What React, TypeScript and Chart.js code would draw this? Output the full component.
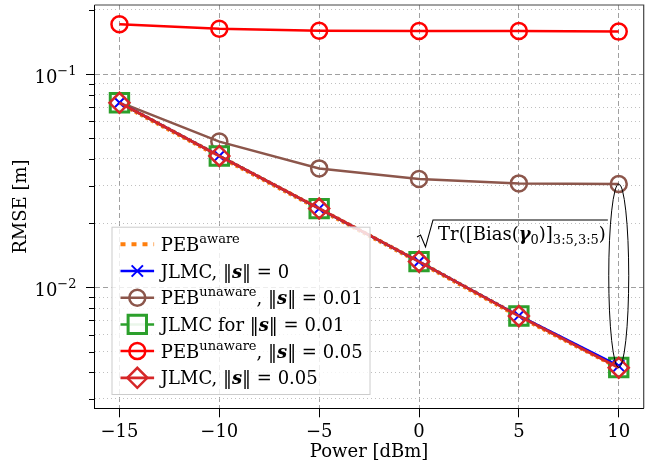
import React, { useEffect, useRef } from 'react';
import { Chart, registerables } from 'chart.js';

Chart.register(...registerables);

// ---------- data ----------
const powerDbm = [-15, -10, -5, 0, 5, 10];
const pebAware = [0.0731, 0.0411, 0.0233, 0.01315, 0.00731, 0.0042];
const jlmcZero = [0.0734, 0.0413, 0.0234, 0.0132, 0.00736, 0.00428];
const pebUnaware001 = [0.0738, 0.0482, 0.0361, 0.0322, 0.0307, 0.0305];
const jlmc001 = [0.0733, 0.0413, 0.0234, 0.0132, 0.00734, 0.00421];
const pebUnaware005 = [0.171, 0.163, 0.1596, 0.159, 0.159, 0.158];
const jlmc005 = [0.0733, 0.0413, 0.0234, 0.0132, 0.00733, 0.0042];

const seriesLabels = [
  'PEB^{aware}',
  'JLMC, ‖*s*‖ = 0',
  'PEB^{unaware}, ‖*s*‖ = 0.01',
  'JLMC for ‖*s*‖ = 0.01',
  'PEB^{unaware}, ‖*s*‖ = 0.05',
  'JLMC, ‖*s*‖ = 0.05',
];

const xTicks = [-15, -10, -5, 0, 5, 10];
const yMajorTicks = [0.01, 0.1];
const yMajorLabels = ['10^{−2}', '10^{−1}'];
const yMinorTicks = [0.003, 0.004, 0.005, 0.006, 0.007, 0.008, 0.009, 0.02, 0.03, 0.04, 0.05, 0.06, 0.07, 0.08, 0.09, 0.2];
const xRange = [-16.25, 11.25];
const yRange = [0.00271, 0.2106];
const xAxisTitle = 'Power [dBm]';
const yAxisTitle = 'RMSE [m]';
const annotationText = 'Tr([Bias(*γ*_{0})]_{3:5,3:5})';
const annotationAnchor = { x: 0, y: 0.0207 };

// ---------- styling ----------
const FAMILY = '"DejaVu Serif", serif';
const FS = 18;

type Seg = { text: string; kind: 'n' | 'sup' | 'sub' | 'bi' };
function parseRich(s: string): Seg[] {
  const out: Seg[] = [];
  let i = 0;
  let buf = '';
  const flush = () => {
    if (buf) {
      out.push({ text: buf, kind: 'n' });
      buf = '';
    }
  };
  while (i < s.length) {
    const c = s[i];
    if ((c === '^' || c === '_') && s[i + 1] === '{') {
      flush();
      const end = s.indexOf('}', i);
      out.push({ text: s.slice(i + 2, end), kind: c === '^' ? 'sup' : 'sub' });
      i = end + 1;
    } else if (c === '*') {
      flush();
      const end = s.indexOf('*', i + 1);
      out.push({ text: s.slice(i + 1, end), kind: 'bi' });
      i = end + 1;
    } else {
      buf += c;
      i++;
    }
  }
  flush();
  return out;
}

function drawRich(ctx: CanvasRenderingContext2D, s: string, x: number, y: number, size: number, align: 'left' | 'right' = 'left') {
  const segs = parseRich(s);
  const small = Math.round(size * 0.7);
  const fontFor = (k: string) =>
    k === 'bi' ? `bold italic ${size}px ${FAMILY}` : k === 'sup' || k === 'sub' ? `${small}px ${FAMILY}` : `${size}px ${FAMILY}`;
  const dyFor = (k: string) => (k === 'sup' ? -size * 0.45 : k === 'sub' ? size * 0.22 : 0);
  let w = 0;
  for (const sg of segs) {
    ctx.font = fontFor(sg.kind);
    w += ctx.measureText(sg.text).width;
  }
  let cx = align === 'right' ? x - w : x;
  const start = cx;
  ctx.textAlign = 'left';
  ctx.textBaseline = 'alphabetic';
  for (const sg of segs) {
    ctx.font = fontFor(sg.kind);
    ctx.fillText(sg.text, cx, y + dyFor(sg.kind));
    cx += ctx.measureText(sg.text).width;
  }
  return { start, end: cx };
}

function drawMarker(ctx: CanvasRenderingContext2D, style: string, x: number, y: number, r: number, stroke: string, fill: string, lw: number) {
  ctx.save();
  ctx.lineWidth = lw;
  ctx.strokeStyle = stroke;
  ctx.fillStyle = fill;
  ctx.setLineDash([]);
  ctx.beginPath();
  if (style === 'circle') {
    ctx.arc(x, y, r, 0, Math.PI * 2);
  } else if (style === 'rect') {
    const h = r * Math.SQRT1_2;
    ctx.rect(x - h, y - h, 2 * h, 2 * h);
  } else if (style === 'rectRot') {
    ctx.moveTo(x - r, y);
    ctx.lineTo(x, y - r);
    ctx.lineTo(x + r, y);
    ctx.lineTo(x, y + r);
    ctx.closePath();
  } else if (style === 'crossRot') {
    const d = r * Math.SQRT1_2;
    ctx.moveTo(x - d, y - d);
    ctx.lineTo(x + d, y + d);
    ctx.moveTo(x - d, y + d);
    ctx.lineTo(x + d, y - d);
  }
  if (style !== 'crossRot') ctx.fill();
  ctx.stroke();
  ctx.restore();
}

const isMajor = (v: number) => yMajorTicks.some((m) => Math.abs(m - v) / m < 1e-6);

const overlayPlugin = {
  id: 'overlay',
  afterDatasetsDraw(chart: any) {
    const ctx: CanvasRenderingContext2D = chart.ctx;
    const ca = chart.chartArea;
    const xs = chart.scales.x;
    const ys = chart.scales.y;
    ctx.save();

    // y ticks (outside): major long, minor short
    ctx.strokeStyle = '#000';
    ctx.lineWidth = 1;
    ctx.setLineDash([]);
    for (const v of yMinorTicks) {
      const py = Math.round(ys.getPixelForValue(v)) + 0.5;
      ctx.beginPath();
      ctx.moveTo(ca.left - 5.5, py);
      ctx.lineTo(ca.left, py);
      ctx.stroke();
    }
    for (const v of yMajorTicks) {
      const py = Math.round(ys.getPixelForValue(v)) + 0.5;
      ctx.beginPath();
      ctx.moveTo(ca.left - 8.5, py);
      ctx.lineTo(ca.left, py);
      ctx.stroke();
    }

    // y tick labels with exponents
    ctx.fillStyle = '#000';
    yMajorTicks.forEach((v, i) => {
      const py = ys.getPixelForValue(v);
      drawRich(ctx, yMajorLabels[i], ca.left - 18, py + 9, FS, 'right');
    });

    // frame top & right
    ctx.strokeStyle = '#444';
    ctx.lineWidth = 1.2;
    ctx.beginPath();
    ctx.moveTo(ca.left, ca.top);
    ctx.lineTo(ca.right, ca.top);
    ctx.lineTo(ca.right, ca.bottom);
    ctx.stroke();

    // ellipse marking the bias gap at the last power level
    const last = powerDbm.length - 1;
    const ex = xs.getPixelForValue(powerDbm[last]);
    const eTop = ys.getPixelForValue(pebUnaware001[last]);
    const eBot = ys.getPixelForValue(jlmc001[last]);
    ctx.strokeStyle = '#000';
    ctx.lineWidth = 1;
    ctx.beginPath();
    ctx.ellipse(ex, (eTop + eBot) / 2, 10, (eBot - eTop) / 2, 0, 0, Math.PI * 2);
    ctx.stroke();

    // annotation sqrt(Tr(...))
    const ax = xs.getPixelForValue(annotationAnchor.x);
    const ay = ys.getPixelForValue(annotationAnchor.y);
    ctx.fillStyle = '#000';
    const r = drawRich(ctx, annotationText, ax + 19, ay + 20, FS);
    ctx.beginPath();
    ctx.lineWidth = 1.1;
    ctx.lineJoin = 'miter';
    ctx.moveTo(ax - 2, ay + 17);
    ctx.lineTo(ax + 1.5, ay + 15);
    ctx.lineTo(ax + 6.5, ay + 27);
    ctx.lineTo(ax + 14, ay);
    ctx.lineTo(r.end + 2, ay);
    ctx.stroke();

    // legend
    const lx = ca.left + 17;
    const lb = ca.bottom - 13.3;
    const lw = 259;
    const lh = 168.3;
    const ly = lb - lh;
    ctx.fillStyle = 'rgba(255,255,255,0.82)';
    ctx.fillRect(lx, ly, lw, lh);
    ctx.strokeStyle = '#cccccc';
    ctx.lineWidth = 1;
    ctx.strokeRect(lx + 0.5, ly + 0.5, lw - 1, lh - 1);
    chart.data.datasets.forEach((ds: any, i: number) => {
      const rowY = ly + 17.6 + i * 26.7;
      const x1 = lx + 9;
      const x2 = lx + 42.6;
      ctx.save();
      ctx.strokeStyle = ds.borderColor;
      ctx.lineWidth = ds.borderDash && ds.borderDash.length ? 4 : ds.borderWidth;
      ctx.setLineDash(ds.borderDash && ds.borderDash.length ? [5, 6] : []);
      ctx.beginPath();
      ctx.moveTo(x1, rowY);
      ctx.lineTo(x2, rowY);
      ctx.stroke();
      ctx.restore();
      if (ds.pointRadius > 0) {
        drawMarker(ctx, ds.pointStyle, (x1 + x2) / 2, rowY, ds.pointRadius, ds.pointBorderColor || ds.borderColor, ds.pointBackgroundColor, ds.pointBorderWidth);
      }
      ctx.fillStyle = '#000';
      drawRich(ctx, seriesLabels[i], lx + 49.3, rowY + 6.5, FS);
    });

    ctx.restore();
  },
};

const toXY = (arr: number[]) => powerDbm.map((x, i) => ({ x, y: arr[i] }));

export default function App() {
  const ref = useRef<HTMLCanvasElement | null>(null);

  useEffect(() => {
    if (!ref.current) return;
    const font = { family: FAMILY, size: FS };
    const chart = new Chart(ref.current, {
      type: 'line',
      data: {
        datasets: [
          {
            label: seriesLabels[0],
            data: toXY(pebAware),
            borderColor: '#ff7f0e',
            borderWidth: 4.5,
            borderDash: [3, 3],
            pointRadius: 0,
            pointStyle: 'circle',
            pointBackgroundColor: 'rgba(0,0,0,0)',
            pointBorderWidth: 0,
            order: 6,
          },
          {
            label: seriesLabels[1],
            data: toXY(jlmcZero),
            borderColor: '#0000ff',
            borderWidth: 2.5,
            pointStyle: 'crossRot',
            pointRadius: 8,
            pointBorderWidth: 2,
            pointBackgroundColor: 'rgba(0,0,0,0)',
            order: 2,
          },
          {
            label: seriesLabels[2],
            data: toXY(pebUnaware001),
            borderColor: '#8c564b',
            borderWidth: 2.5,
            pointStyle: 'circle',
            pointRadius: 8,
            pointBorderWidth: 2.5,
            pointBackgroundColor: 'rgba(0,0,0,0)',
            order: 5,
          },
          {
            label: seriesLabels[3],
            data: toXY(jlmc001),
            borderColor: '#2ca02c',
            borderWidth: 2.5,
            pointStyle: 'rect',
            pointRadius: 13,
            pointBorderWidth: 3,
            pointBackgroundColor: 'rgba(255,255,255,0.9)',
            order: 3,
          },
          {
            label: seriesLabels[4],
            data: toXY(pebUnaware005),
            borderColor: '#ff0000',
            borderWidth: 2.5,
            pointStyle: 'circle',
            pointRadius: 8,
            pointBorderWidth: 2.5,
            pointBackgroundColor: 'rgba(0,0,0,0)',
            order: 4,
          },
          {
            label: seriesLabels[5],
            data: toXY(jlmc005),
            borderColor: '#d62728',
            borderWidth: 2.8,
            pointStyle: 'rectRot',
            pointRadius: 10,
            pointBorderWidth: 2.5,
            pointBackgroundColor: 'rgba(0,0,0,0)',
            order: 1,
          },
        ],
      } as any,
      options: {
        responsive: false,
        animation: false,
        devicePixelRatio: 1,
        layout: { autoPadding: false, padding: { left: 0, right: 19.3, top: 5, bottom: 0 } },
        elements: { line: { tension: 0 } },
        plugins: { legend: { display: false }, tooltip: { enabled: false } },
        scales: {
          x: {
            type: 'linear',
            min: xRange[0],
            max: xRange[1],
            afterBuildTicks: (s: any) => {
              s.ticks = xTicks.map((v) => ({ value: v }));
            },
            afterFit: (s: any) => {
              s.height = 59.7;
            },
            ticks: {
              autoSkip: false,
              maxRotation: 0,
              padding: 4,
              color: '#000',
              font,
              callback: (v: any) => (Number(v) < 0 ? '−' + Math.abs(Number(v)) : String(v)),
            },
            grid: {
              color: 'rgba(150,150,150,0.9)',
              lineWidth: 1,
              drawTicks: true,
              tickLength: 9,
              tickColor: '#000',
              tickWidth: 1,
            },
            border: {
              display: true,
              color: '#000',
              width: 1,
              dash: (c: any) => (c.type === 'tick' ? [5, 3] : []),
            },
            title: { display: true, text: xAxisTitle, color: '#000', font, padding: { top: 0, bottom: 5 } },
          },
          y: {
            type: 'logarithmic',
            min: yRange[0],
            max: yRange[1],
            afterBuildTicks: (s: any) => {
              const all = [...yMinorTicks, ...yMajorTicks].sort((a, b) => a - b);
              s.ticks = all.map((v) => ({ value: v, major: isMajor(v) }));
            },
            afterFit: (s: any) => {
              s.width = 94.5;
            },
            ticks: {
              display: false,
              autoSkip: false,
            },
            grid: {
              color: (c: any) => (c.tick && isMajor(c.tick.value) ? 'rgba(150,150,150,0.9)' : 'rgba(185,185,185,0.9)'),
              lineWidth: 1,
              drawTicks: false,
            },
            border: {
              display: true,
              color: '#000',
              width: 1,
              dash: (c: any) => (c.type === 'tick' ? (c.tick && isMajor(c.tick.value) ? [5, 3] : [1, 3]) : []),
            },
            title: { display: true, text: yAxisTitle, color: '#000', font, padding: { top: 11, bottom: 0 } },
          },
        },
      } as any,
      plugins: [overlayPlugin],
    });
    return () => chart.destroy();
  }, []);

  return (
    <div style={{ position: 'fixed', left: 0, top: 0, width: 663, height: 468, background: '#fff' }}>
      <canvas ref={ref} width={663} height={468} style={{ width: 663, height: 468, display: 'block' }} />
    </div>
  );
}
